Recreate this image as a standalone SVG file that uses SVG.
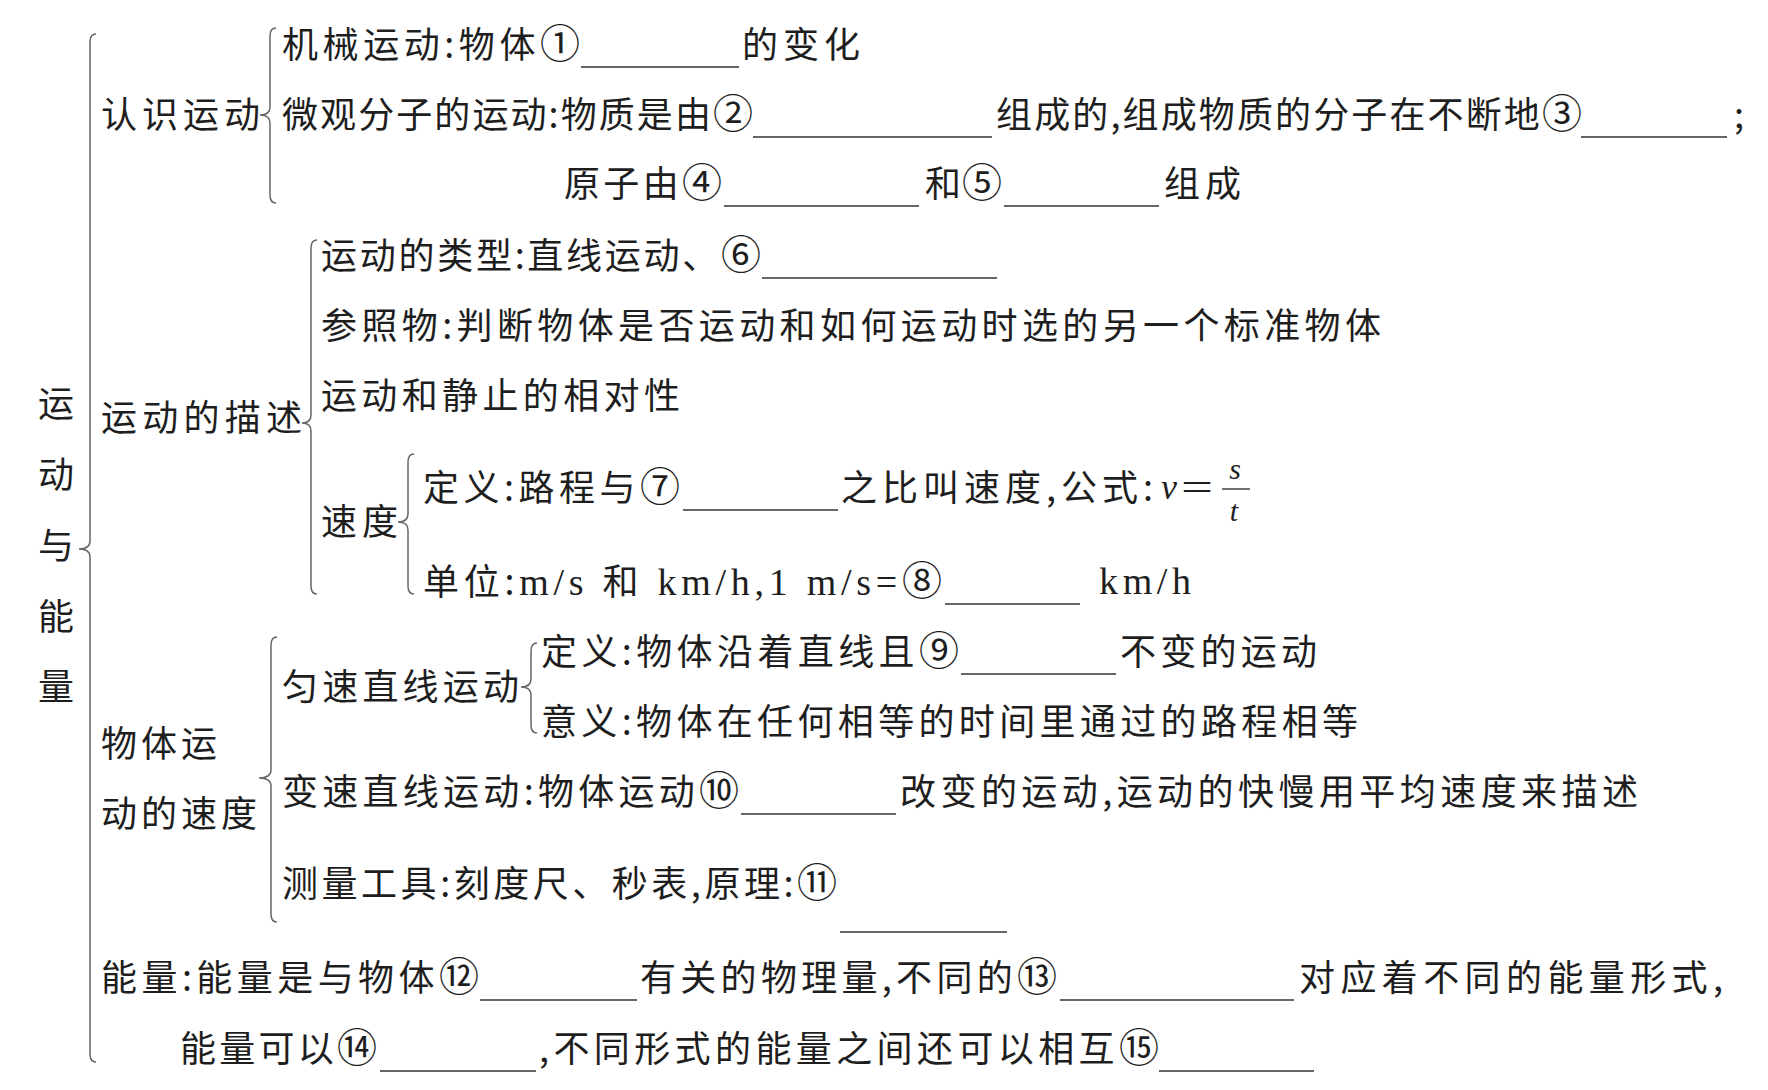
<svg xmlns="http://www.w3.org/2000/svg" width="1768" height="1090" viewBox="0 0 1768 1090">
<style>
.t{font-family:"Noto Sans CJK SC","Liberation Sans",sans-serif;font-size:36px;fill:#1e1e1e}
.c{font-size:40px}
.s{font-family:"Liberation Serif",serif;font-size:38px}
.i{font-family:"Liberation Serif",serif;font-style:italic;fill:#1e1e1e}
.b{stroke:#333;stroke-width:1.6;fill:none}
.br{stroke:#666;stroke-width:1.5;fill:none}
</style>
<rect width="1768" height="1090" fill="#ffffff"/>
<g id="connectors">
<path class="br" d="M96,34 Q90,34 90,42 L90,541 Q90,549 79,549 Q90,549 90,557 L90,1054 Q90,1062 96,1062"/>
<path class="br" d="M276,28 Q270,28 270,36 L270,107 Q270,115 260,115 Q270,115 270,123 L270,195 Q270,203 276,203"/>
<path class="br" d="M317,240 Q311,240 311,248 L311,415 Q311,423 302,423 Q311,423 311,431 L311,586 Q311,594 317,594"/>
<path class="br" d="M414,454 Q408,454 408,462 L408,514 Q408,522 398,522 Q408,522 408,530 L408,586 Q408,594 414,594"/>
<path class="br" d="M277,637 Q271,637 271,645 L271,770 Q271,778 259,778 Q271,778 271,786 L271,914 Q271,922 277,922"/>
<path class="br" d="M537,643 Q531,643 531,651 L531,679 Q531,687 521,687 Q531,687 531,695 L531,725 Q531,733 537,733"/>
</g>
<g id="root">
<text class="t" x="56" y="417" text-anchor="middle">运</text>
<text class="t" x="56" y="488" text-anchor="middle">动</text>
<text class="t" x="56" y="559" text-anchor="middle">与</text>
<text class="t" x="56" y="630" text-anchor="middle">能</text>
<text class="t" x="56" y="700" text-anchor="middle">量</text>
</g>
<g id="n-renshi">
<text class="t" x="101" y="128" textLength="159" lengthAdjust="spacing">认识运动</text>
</g>
<g id="n-jixie">
<text class="t" x="282" y="58" textLength="298" lengthAdjust="spacing">机械运动:物体<tspan class="c">①</tspan></text>
<line class="b" x1="581" y1="67" x2="739" y2="67"/>
<text class="t" x="742" y="58" textLength="118" lengthAdjust="spacing">的变化</text>
</g>
<g id="n-weiguan">
<text class="t" x="282" y="128" textLength="471" lengthAdjust="spacing">微观分子的运动:物质是由<tspan class="c">②</tspan></text>
<line class="b" x1="753" y1="137" x2="992" y2="137"/>
<text class="t" x="996" y="128" textLength="586" lengthAdjust="spacing">组成的,组成物质的分子在不断地<tspan class="c">③</tspan></text>
<line class="b" x1="1581" y1="137" x2="1727" y2="137"/>
<text class="t" x="1734" y="128">;</text>
<text class="t" x="564" y="197" textLength="158" lengthAdjust="spacing">原子由<tspan class="c">④</tspan></text>
<line class="b" x1="724" y1="206" x2="919" y2="206"/>
<text class="t" x="925" y="197" textLength="77" lengthAdjust="spacing">和<tspan class="c">⑤</tspan></text>
<line class="b" x1="1004" y1="206" x2="1159" y2="206"/>
<text class="t" x="1164" y="197" textLength="77" lengthAdjust="spacing">组成</text>
</g>
<g id="n-miaoshu">
<text class="t" x="101" y="431" textLength="201" lengthAdjust="spacing">运动的描述</text>
</g>
<g id="n-leixing">
<text class="t" x="321" y="269" textLength="440" lengthAdjust="spacing">运动的类型:直线运动、<tspan class="c">⑥</tspan></text>
<line class="b" x1="762" y1="278" x2="997" y2="278"/>
</g>
<g id="n-canzhao">
<text class="t" x="321" y="339" textLength="1060" lengthAdjust="spacing">参照物:判断物体是否运动和如何运动时选的另一个标准物体</text>
</g>
<g id="n-xiangdui">
<text class="t" x="321" y="409" textLength="359" lengthAdjust="spacing">运动和静止的相对性</text>
</g>
<g id="n-sudu">
<text class="t" x="321" y="535" textLength="77" lengthAdjust="spacing">速度</text>
</g>
<g id="n-dingyi">
<text class="t" x="423" y="501" textLength="257" lengthAdjust="spacing">定义:路程与<tspan class="c">⑦</tspan></text>
<line class="b" x1="683" y1="510" x2="838" y2="510"/>
<text class="t" x="841" y="501" textLength="312" lengthAdjust="spacing">之比叫速度,公式:</text>
<text class="i" x="1161" y="499" font-size="36">v</text>
<text class="s" x="1181" y="500" font-size="40" fill="#1e1e1e" textLength="32" lengthAdjust="spacingAndGlyphs">=</text>
<text class="i" x="1235" y="479" font-size="30" text-anchor="middle">s</text>
<line x1="1222" y1="489" x2="1250" y2="489" stroke="#333" stroke-width="1.4"/>
<text class="i" x="1234" y="521" font-size="30" text-anchor="middle">t</text>
</g>
<g id="n-danwei">
<text class="t" x="423" y="595" textLength="519" lengthAdjust="spacing">单位:<tspan class="s">m/s </tspan>和<tspan class="s"> km/h,1 m/s=</tspan><tspan class="c">⑧</tspan></text>
<line class="b" x1="945" y1="604" x2="1080" y2="604"/>
<text class="s" x="1099" y="594" fill="#1e1e1e" textLength="92" lengthAdjust="spacing">km/h</text>
</g>
<g id="n-wuti">
<text class="t" x="101" y="757" textLength="116" lengthAdjust="spacing">物体运</text>
<text class="t" x="101" y="827" textLength="156" lengthAdjust="spacing">动的速度</text>
</g>
<g id="n-yunsu">
<text class="t" x="282" y="700" textLength="237" lengthAdjust="spacing">匀速直线运动</text>
</g>
<g id="n-yunsu-dingyi">
<text class="t" x="541" y="665" textLength="418" lengthAdjust="spacing">定义:物体沿着直线且<tspan class="c">⑨</tspan></text>
<line class="b" x1="961" y1="674" x2="1116" y2="674"/>
<text class="t" x="1120" y="665" textLength="197" lengthAdjust="spacing">不变的运动</text>
</g>
<g id="n-yunsu-yiyi">
<text class="t" x="541" y="735" textLength="817" lengthAdjust="spacing">意义:物体在任何相等的时间里通过的路程相等</text>
</g>
<g id="n-biansu">
<text class="t" x="282" y="805" textLength="457" lengthAdjust="spacing">变速直线运动:物体运动<tspan class="c">⑩</tspan></text>
<line class="b" x1="741" y1="814" x2="896" y2="814"/>
<text class="t" x="900" y="805" textLength="738" lengthAdjust="spacing">改变的运动,运动的快慢用平均速度来描述</text>
</g>
<g id="n-celiang">
<text class="t" x="282" y="897" textLength="555" lengthAdjust="spacing">测量工具:刻度尺、秒表,原理:<tspan class="c">⑪</tspan></text>
<line class="b" x1="840" y1="932" x2="1007" y2="932"/>
</g>
<g id="n-nengliang">
<text class="t" x="101" y="991" textLength="378" lengthAdjust="spacing">能量:能量是与物体<tspan class="c">⑫</tspan></text>
<line class="b" x1="480" y1="1000" x2="637" y2="1000"/>
<text class="t" x="640" y="991" textLength="417" lengthAdjust="spacing">有关的物理量,不同的<tspan class="c">⑬</tspan></text>
<line class="b" x1="1060" y1="1000" x2="1294" y2="1000"/>
<text class="t" x="1299" y="991" textLength="424" lengthAdjust="spacing">对应着不同的能量形式,</text>
<text class="t" x="180" y="1062" textLength="197" lengthAdjust="spacing">能量可以<tspan class="c">⑭</tspan></text>
<line class="b" x1="380" y1="1071" x2="536" y2="1071"/>
<text class="t" x="539" y="1062" textLength="620" lengthAdjust="spacing">,不同形式的能量之间还可以相互<tspan class="c">⑮</tspan></text>
<line class="b" x1="1159" y1="1071" x2="1314" y2="1071"/>
</g>
</svg>
